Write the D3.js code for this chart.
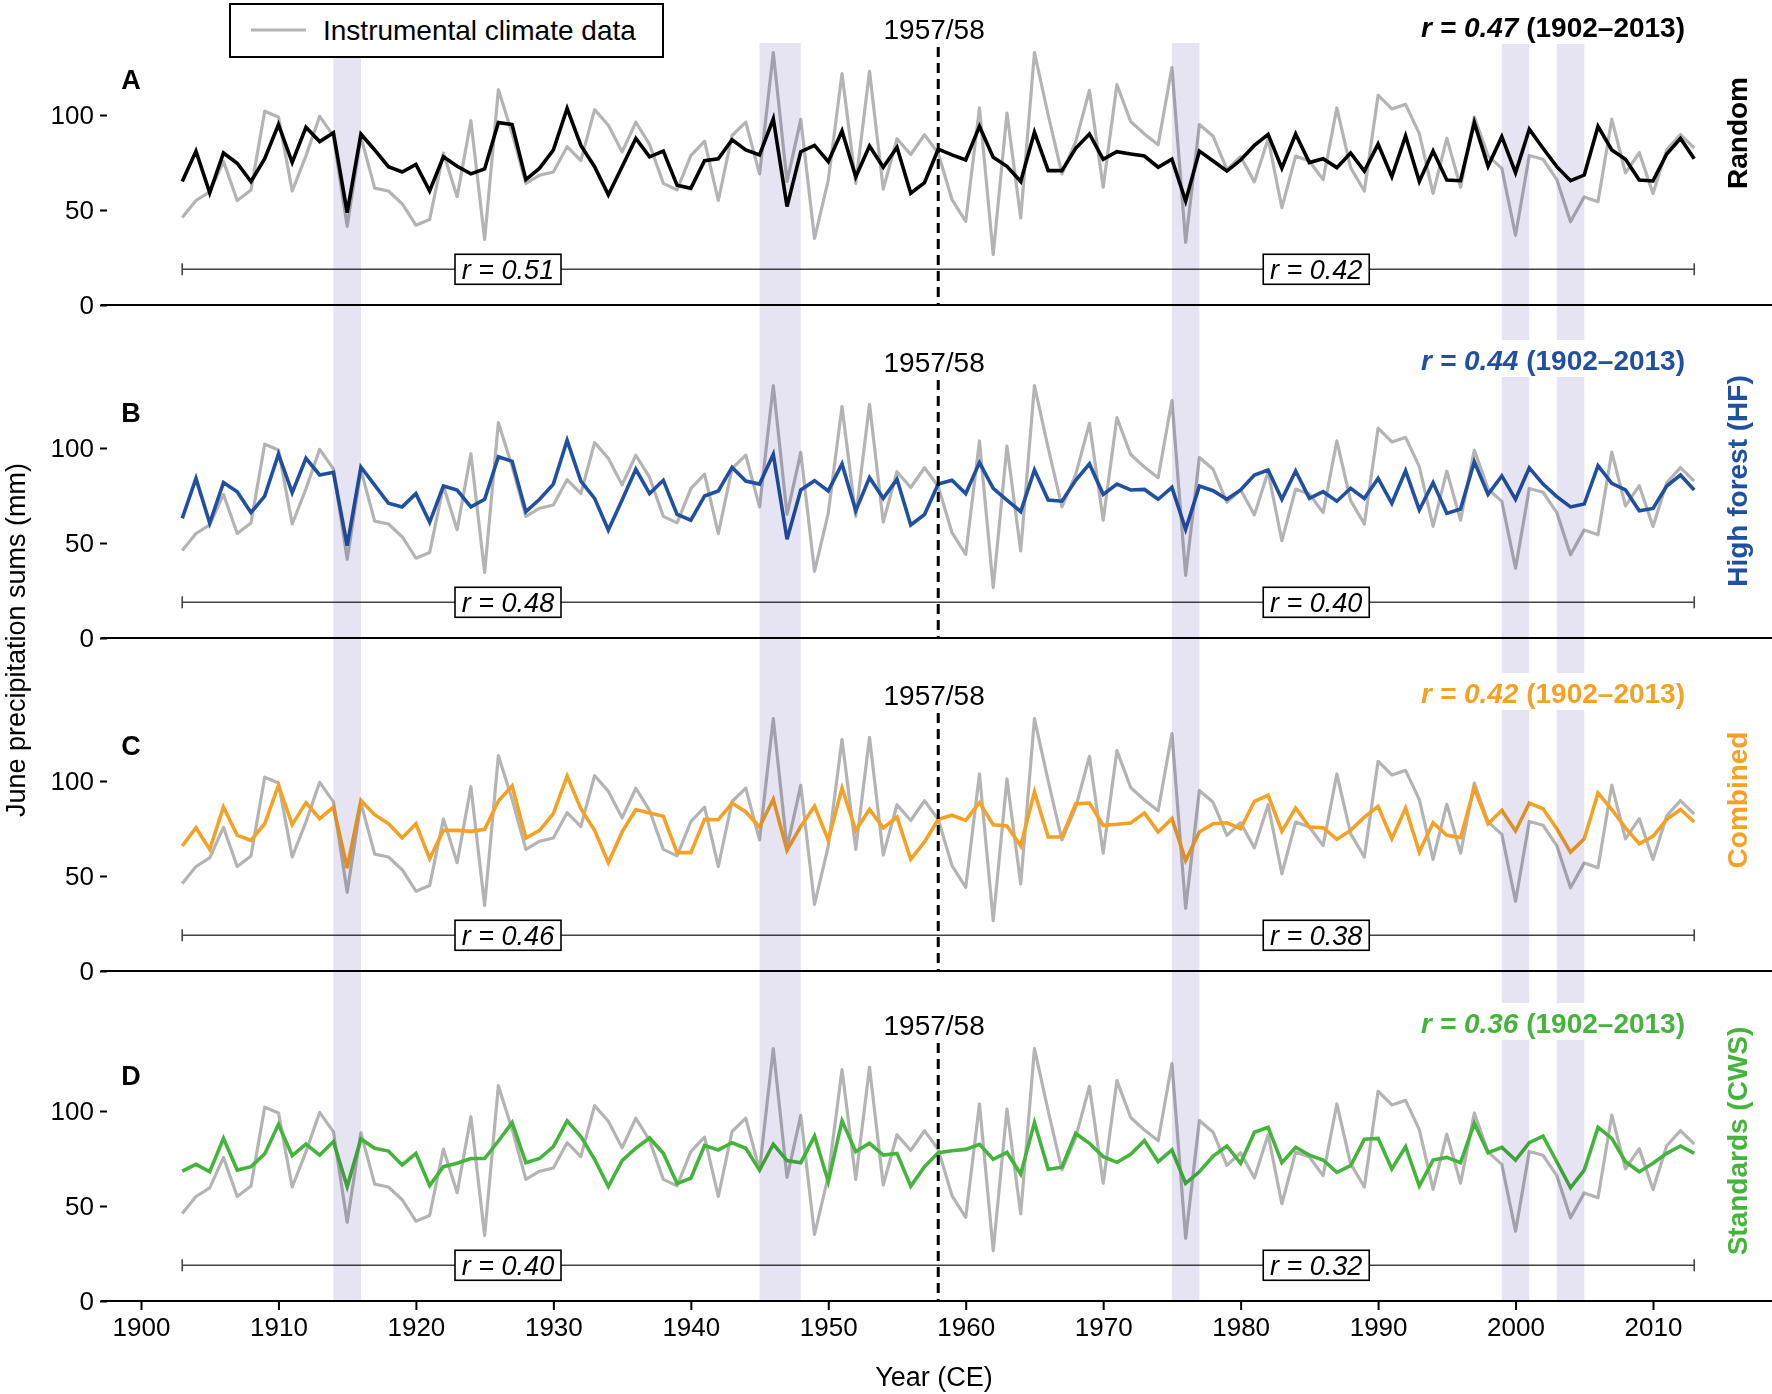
<!DOCTYPE html>
<html>
<head>
<meta charset="utf-8">
<script src="https://cdn.jsdelivr.net/npm/d3@7"></script>
<style>
  body { margin: 0; background: #fff; }
  svg text { font-family: "Liberation Sans", Arial, sans-serif; }
  .tick text { font-size: 26px; fill: #000; }
  .tick line { stroke: #000; stroke-width: 2; }
</style>
</head>
<body>
<div class="precip-wrapper"></div>
<script>
// ---- data (June precipitation sums, mm), 1903-2013 ----
const years = d3.range(1903, 2014)

const instrumental = [46, 55, 59.5, 75.6, 55, 60.5, 102, 99, 60, 78.5,
  99.3, 89, 41.4, 88.5, 61.5, 60, 53.3, 42, 45, 80,
  57, 97, 34.5, 113.3, 90.3, 64, 68.3, 70, 83.3, 76,
  102.8, 94.6, 80.6, 96.2, 84.5, 64, 60.6, 78.6, 86.2, 55,
  89.2, 96.2, 69, 132.8, 65, 97.7, 35, 65.7, 121.8, 64,
  123, 61, 87.5, 79.2, 89.6, 79.8, 55.5, 44, 103.7, 26.5,
  101, 45.8, 132.8, 100, 69, 86, 113, 62, 116, 96.6,
  90, 84.3, 125, 33, 95, 88.8, 71.4, 78, 64.8, 87.5,
  51.2, 78.4, 75.8, 66, 103.7, 72.3, 60, 110.4, 103.2, 105.6,
  90.2, 58.7, 87.8, 62, 98.9, 78.5, 71.9, 36.7, 78.7, 76.7,
  66, 43.8, 56.9, 54.3, 97.8, 69.5, 80.2, 58.7, 81.7, 89.7,
  82.6]

const random = [65, 81, 59, 80, 74.6, 65, 77, 95, 75, 93.5,
  86, 90.7, 48.6, 90, 81.6, 72.8, 70, 74, 60, 78,
  73, 69, 71.6, 96, 95, 66, 72, 81.6, 103.5, 84,
  72.8, 58, 72.8, 87.7, 78, 81, 63, 61.4, 76, 77,
  87, 81.6, 79, 98, 51.8, 80.7, 84, 75.4, 91.6, 67.5,
  83.7, 72.5, 83, 58.8, 64.4, 82, 79, 76.3, 94, 77.7,
  73, 65, 91, 70.7, 70.7, 82.5, 90, 76.7, 80.7, 79.5,
  78.4, 72.5, 76.8, 54.7, 81, 75.8, 70.5, 76.3, 84, 89.8,
  72, 90, 75, 77, 72.3, 80, 70.5, 84.7, 67.5, 89,
  65, 81, 65.8, 65.4, 96, 73, 88.6, 69.6, 92.5, 82.5,
  72.8, 65.4, 68.4, 94, 81.6, 76.7, 65.8, 65.3, 79.5, 87.7,
  77]

const highForest = [63, 84, 60.4, 81.8, 77, 66, 74.7, 96.8, 76.5, 94.6,
  85.8, 87.2, 48.6, 90, 80.5, 70.9, 69, 76, 60.9, 80,
  77.9, 69, 73, 95.4, 93, 66.5, 73, 81, 104, 82.6,
  73.5, 56.8, 72.6, 88.8, 76, 83, 65, 62, 74.7, 77.4,
  89.8, 82.6, 81, 96.7, 52, 77.9, 82.8, 77.4, 91.6, 67,
  84.4, 73.5, 83.5, 59.5, 65, 81, 83, 76, 92.3, 78.8,
  72.6, 66.5, 88.4, 72.6, 72, 83, 91.6, 75.6, 81, 77.9,
  78.2, 73, 79.3, 57.2, 80, 77.5, 73, 77.9, 85.8, 88.4,
  73, 87.9, 73.5, 77, 72, 78.8, 73.5, 84, 70.9, 88,
  67.4, 81.8, 65.6, 67.9, 92.8, 75.6, 85.3, 73, 89.6, 81,
  74.4, 69, 70.5, 90.7, 81.4, 77.9, 67, 68.2, 80, 85.8,
  77.9]

const combined = [65.8, 75.4, 64, 86.3, 71.4, 68.8, 77.5, 97.7, 77, 88.6,
  80.2, 86.3, 54.2, 89.8, 82.3, 77.5, 70, 77.5, 59.1, 74,
  74, 73.5, 74.6, 89.5, 97.4, 70, 74, 82.8, 102.6, 85.4,
  74, 57, 73.2, 85, 83.2, 81.4, 62.3, 62.3, 79.8, 79.6,
  88.4, 83.7, 75.8, 90.4, 63.5, 76.1, 86.8, 68.8, 96.3, 74,
  85, 75.3, 81, 58.8, 67.9, 79.8, 82, 79.3, 88.6, 77,
  76.3, 65.8, 94.2, 70.5, 70.5, 88, 88.4, 76.7, 77.2, 77.9,
  83.2, 73.2, 80.2, 58.2, 73.2, 77.5, 78, 74.9, 89.3, 92.5,
  73.5, 85.8, 75.8, 75.4, 69.3, 74, 81, 86.7, 69.6, 85.8,
  62.6, 78, 71.4, 70.2, 96.3, 77.5, 84.6, 73.7, 88.4, 85.4,
  74.9, 62.6, 69.6, 93.7, 85, 75.3, 67, 70.9, 79.8, 85,
  78.4]

const standards = [68.4, 71.9, 68, 85.6, 68.9, 70.7, 77.4, 93, 76.5, 82.6,
  76.8, 83.9, 60.2, 85.3, 80.4, 78.9, 71.6, 77.7, 60.7, 70.7,
  72.5, 75, 75, 84.2, 93.9, 72.8, 75, 81.2, 94.8, 86.5,
  74.6, 60.2, 73.9, 80.4, 85.8, 77.7, 61.9, 64.6, 81.8, 79.5,
  83.3, 80.4, 68.9, 82.5, 73.9, 72.8, 86.8, 62.8, 94.8, 78.6,
  83, 76.8, 77.7, 60.4, 70.7, 78.1, 79.1, 79.8, 82.5, 74.6,
  78.2, 66.8, 93.9, 69.3, 70.4, 88.2, 83, 76, 73, 77.2,
  84.4, 73.3, 79.5, 61.9, 68, 76.3, 81.6, 72.5, 88.8, 91.4,
  72.8, 80.9, 76.8, 74.2, 67.7, 71.2, 85.1, 85.6, 69.5, 81.2,
  60.5, 74.2, 75.6, 72.8, 93.5, 78.1, 80.9, 74.2, 83.3, 86.8,
  73.3, 59.6, 68.9, 91.4, 85.6, 73.3, 68, 72.5, 77.7, 81.6,
  77.7]

const panelLetters = ['A', 'B', 'C', 'D']
const panelNames = ['Random', 'High forest (HF)', 'Combined', 'Standards (CWS)']
const panelSeries = [random, highForest, combined, standards]
const panelColors = ['#000000', '#2150a0', '#f5a126', '#45b43c']
const rFull = ['0.47', '0.44', '0.42', '0.36']
const rEarly = ['0.51', '0.48', '0.46', '0.40']
const rLate = ['0.42', '0.40', '0.38', '0.32']
const fullPeriod = '(1902\u20132013)'
const breakYear = 1958
const breakLabel = '1957/58'
const bracketValue = 18.8
const rBoxYears = [1926.7, 1985.5]
const bands = [[1914, 1916], [1945, 1948], [1975, 1977], [1999, 2001], [2003, 2005]]
const yTicks = [0, 50, 100]
const xTicks = d3.range(1900, 2011, 10)

// ---- layout ----
const width = 1772
const height = 1394
const zeros = [305, 638, 971, 1301]     // baseline (0 mm) of each panel
const panelHeight = 190                  // pixels for 100 mm
const nameOffsets = [-172, -157, -171, -160]
const gray = '#b4b4b4'

const svg = d3.select('.precip-wrapper')
  .append('svg')
  .attr('width', width)
  .attr('height', height)

svg.append('rect').attr('width', width).attr('height', height).attr('fill', '#fff')

const xScale = d3.scaleLinear()
  .domain([1900, 2010])
  .range([141, 1653])

const lineLayer = svg.append('g')
const bandLayer = svg.append('g').style('mix-blend-mode', 'multiply')
const topLayer = svg.append('g')

panelSeries.forEach((series, i) => {

  const zero = zeros[i]

  const yScale = d3.scaleLinear()
    .domain([0, 100])
    .range([zero, zero - panelHeight])

  const line = d3.line()
    .x((d, j) => xScale(years[j]))
    .y(d => yScale(d))

  const g = lineLayer.append('g')

  // instrumental record
  g.append('path')
    .attr('d', line(instrumental))
    .attr('fill', 'none')
    .attr('stroke', gray)
    .attr('stroke-width', 3.2)
    .attr('stroke-linejoin', 'round')

  // reconstruction
  g.append('path')
    .attr('d', line(series))
    .attr('fill', 'none')
    .attr('stroke', panelColors[i])
    .attr('stroke-width', 3.6)
    .attr('stroke-linejoin', 'miter')

  // zero line
  g.append('line')
    .attr('x1', 101).attr('x2', width)
    .attr('y1', zero).attr('y2', zero)
    .attr('stroke', '#000')
    .attr('stroke-width', 2)

  // y axis (ticks only)
  const yAxis = g.append('g')
    .attr('transform', 'translate(107,0)')
    .call(d3.axisLeft(yScale).tickValues(yTicks).tickSize(7).tickPadding(6))
  yAxis.select('.domain').remove()

  // break line
  g.append('line')
    .attr('x1', xScale(breakYear)).attr('x2', xScale(breakYear))
    .attr('y1', zero - 258).attr('y2', zero)
    .attr('stroke', '#000')
    .attr('stroke-width', 3)
    .attr('stroke-dasharray', '10,6')

  g.append('text')
    .attr('x', xScale(breakYear - 0.3))
    .attr('y', zero - 266)
    .attr('text-anchor', 'middle')
    .style('font-size', '28px')
    .text(breakLabel)

  // sub-period bracket
  const by = yScale(bracketValue)
  const bx0 = xScale(years[0])
  const bx1 = xScale(years[years.length - 1])

  g.append('line')
    .attr('x1', bx0).attr('x2', bx1)
    .attr('y1', by).attr('y2', by)
    .attr('stroke', '#444')
    .attr('stroke-width', 1.6)

  ;[bx0, bx1].forEach(bx => {
    g.append('line')
      .attr('x1', bx).attr('x2', bx)
      .attr('y1', by - 6).attr('y2', by + 6)
      .attr('stroke', '#444')
      .attr('stroke-width', 1.6)
  })

  ;[rEarly[i], rLate[i]].forEach((r, k) => {
    const cx = xScale(rBoxYears[k])
    g.append('rect')
      .attr('x', cx - 53).attr('y', by - 15)
      .attr('width', 106).attr('height', 30)
      .attr('fill', '#fff')
      .attr('stroke', '#000')
      .attr('stroke-width', 1.6)
    g.append('text')
      .attr('x', cx).attr('y', by + 10)
      .attr('text-anchor', 'middle')
      .style('font-size', '27px')
      .style('font-style', 'italic')
      .text(`r = ${r}`)
  })

  // correlation over full period
  topLayer.append('rect')
    .attr('x', 1412).attr('y', zero - 298)
    .attr('width', 280).attr('height', 37)
    .attr('fill', '#fff')

  const rText = topLayer.append('text')
    .attr('x', 1685)
    .attr('y', zero - 268)
    .attr('text-anchor', 'end')
    .attr('fill', panelColors[i])
    .style('font-size', '28px')
    .style('font-weight', 'bold')
  rText.append('tspan').style('font-style', 'italic').text(`r = ${rFull[i]}`)
  rText.append('tspan').text(' ' + fullPeriod)

  // panel letter
  topLayer.append('text')
    .attr('x', 131)
    .attr('y', zero - 216)
    .attr('text-anchor', 'middle')
    .style('font-size', '27px')
    .style('font-weight', 'bold')
    .text(panelLetters[i])

  // series name
  topLayer.append('text')
    .attr('transform', `translate(1747,${zero + nameOffsets[i]}) rotate(-90)`)
    .attr('text-anchor', 'middle')
    .attr('fill', panelColors[i])
    .style('font-size', '28px')
    .style('font-weight', 'bold')
    .text(panelNames[i])
})

// shaded years across all panels
bandLayer.selectAll('rect')
  .data(bands)
  .enter()
  .append('rect')
  .attr('x', d => xScale(d[0]))
  .attr('width', d => xScale(d[1]) - xScale(d[0]))
  .attr('y', 43)
  .attr('height', zeros[3] - 43)
  .attr('fill', '#e6e4f3')

svg.node().appendChild(topLayer.node())

// x axis under the last panel
const xAxis = svg.append('g')
  .attr('transform', `translate(0,${zeros[3]})`)
  .call(d3.axisBottom(xScale).tickValues(xTicks).tickSize(9).tickPadding(8).tickFormat(d3.format('d')))
xAxis.select('.domain').remove()

svg.append('text')
  .attr('x', 934)
  .attr('y', 1386)
  .attr('text-anchor', 'middle')
  .style('font-size', '27px')
  .text('Year (CE)')

svg.append('text')
  .attr('transform', 'translate(25,640) rotate(-90)')
  .attr('text-anchor', 'middle')
  .style('font-size', '27px')
  .text('June precipitation sums (mm)')

// legend
const legend = svg.append('g')
legend.append('rect')
  .attr('x', 230).attr('y', 4)
  .attr('width', 433).attr('height', 53)
  .attr('fill', '#fff')
  .attr('stroke', '#000')
  .attr('stroke-width', 2)
legend.append('line')
  .attr('x1', 251).attr('x2', 306)
  .attr('y1', 30).attr('y2', 30)
  .attr('stroke', gray)
  .attr('stroke-width', 3)
legend.append('text')
  .attr('x', 323).attr('y', 40)
  .style('font-size', '28px')
  .text('Instrumental climate data')
</script>
</body>
</html>
